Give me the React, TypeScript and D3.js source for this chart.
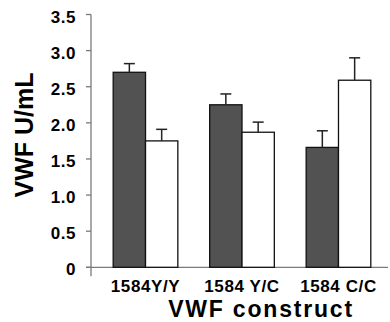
import { useEffect, useRef } from 'react';
import * as d3 from 'd3';

// Data
const constructs = ['1584Y/Y', '1584 Y/C', '1584 C/C'];
const series = ['dark', 'white'];
const darkValues = [2.7, 2.25, 1.66];
const darkErrors = [0.12, 0.15, 0.23];
const whiteValues = [1.75, 1.87, 2.59];
const whiteErrors = [0.16, 0.14, 0.31];
const yTicks = [0, 0.5, 1.0, 1.5, 2.0, 2.5, 3.0, 3.5];

const width = 390;
const height = 322;
const margin = { top: 14.5, bottom: 55, left: 91 };
const fills: Record<string, string> = { dark: '#525252', white: '#ffffff' };
const font = 'Arial, "Liberation Sans", Helvetica, sans-serif';

const App = () => {
    const svgRef = useRef<SVGSVGElement>(null);

    useEffect(() => {
        const svg = d3.select(svgRef.current);
        svg.selectAll('*').remove();

        const y = d3.scaleLinear().domain([0, 3.5]).range([height - margin.bottom + 0.3, margin.top]);
        const x0 = d3
            .scaleBand()
            .domain(constructs)
            .range([margin.left, 393])
            .paddingInner(0.33)
            .paddingOuter(0.23);
        const x1 = d3.scaleBand().domain(series).range([0, x0.bandwidth()]).padding(0);

        const rows = constructs.flatMap((c, i) => [
            { group: c, key: 'dark', value: darkValues[i], err: darkErrors[i] },
            { group: c, key: 'white', value: whiteValues[i], err: whiteErrors[i] },
        ]);

        // axes
        const axisColor = '#7a7a7a';
        svg.append('line')
            .attr('x1', margin.left)
            .attr('x2', margin.left)
            .attr('y1', y(3.5))
            .attr('y2', y(0) + 9)
            .attr('stroke', axisColor)
            .attr('stroke-width', 1.3);
        svg.append('line')
            .attr('x1', margin.left - 5)
            .attr('x2', 388)
            .attr('y1', y(0))
            .attr('y2', y(0))
            .attr('stroke', axisColor)
            .attr('stroke-width', 1.3);

        const ticks = svg.append('g');
        ticks
            .selectAll('line')
            .data(yTicks)
            .join('line')
            .attr('x1', margin.left - 5)
            .attr('x2', margin.left)
            .attr('y1', d => y(d))
            .attr('y2', d => y(d))
            .attr('stroke', axisColor)
            .attr('stroke-width', 1.3);
        ticks
            .selectAll('text')
            .data(yTicks)
            .join('text')
            .attr('x', 76)
            .attr('y', d => y(d) + 2)
            .attr('dy', '0.36em')
            .attr('text-anchor', 'end')
            .style('font-family', font)
            .style('font-weight', 'bold')
            .style('font-size', '17px')
            .style('letter-spacing', '0.5px')
            .text(d => (d === 0 ? '0' : d3.format('.1f')(d)));

        // bars
        const bars = svg.append('g');
        bars.selectAll('rect')
            .data(rows)
            .join('rect')
            .attr('x', d => (x0(d.group) ?? 0) + (x1(d.key) ?? 0))
            .attr('y', d => y(d.value))
            .attr('width', x1.bandwidth())
            .attr('height', d => y(0) - y(d.value))
            .attr('fill', d => fills[d.key])
            .attr('stroke', '#111')
            .attr('stroke-width', 1.3);

        // error bars (upper only)
        const errs = svg.append('g').attr('stroke', '#222').attr('stroke-width', 1.5);
        rows.forEach(d => {
            const cx = (x0(d.group) ?? 0) + (x1(d.key) ?? 0) + x1.bandwidth() / 2;
            errs.append('line')
                .attr('x1', cx)
                .attr('x2', cx)
                .attr('y1', y(d.value))
                .attr('y2', y(d.value + d.err));
            errs.append('line')
                .attr('x1', cx - 5.5)
                .attr('x2', cx + 5.5)
                .attr('y1', y(d.value + d.err))
                .attr('y2', y(d.value + d.err));
        });

        // x labels
        svg.append('g')
            .selectAll('text')
            .data(constructs)
            .join('text')
            .attr('x', d => (x0(d) ?? 0) + x0.bandwidth() / 2)
            .attr('y', 292)
            .attr('text-anchor', 'middle')
            .style('font-family', font)
            .style('font-weight', 'bold')
            .style('font-size', '17px')
            .style('letter-spacing', '0.6px')
            .text(d => d);

        svg.append('text')
            .attr('x', 261)
            .attr('y', 317)
            .attr('text-anchor', 'middle')
            .style('font-family', font)
            .style('font-weight', 'bold')
            .style('font-size', '23px')
            .style('letter-spacing', '1.8px')
            .text('VWF construct');

        svg.append('text')
            .attr('transform', `translate(33,135) rotate(-90)`)
            .attr('text-anchor', 'middle')
            .style('font-family', font)
            .style('font-weight', 'bold')
            .style('font-size', '25px')
            .text('VWF U/mL');
    }, []);

    return (
        <svg
            ref={svgRef}
            width={width}
            height={height}
            style={{ position: 'absolute', left: 0, top: 0, background: '#fff' }}
        ></svg>
    );
};

export default App;
